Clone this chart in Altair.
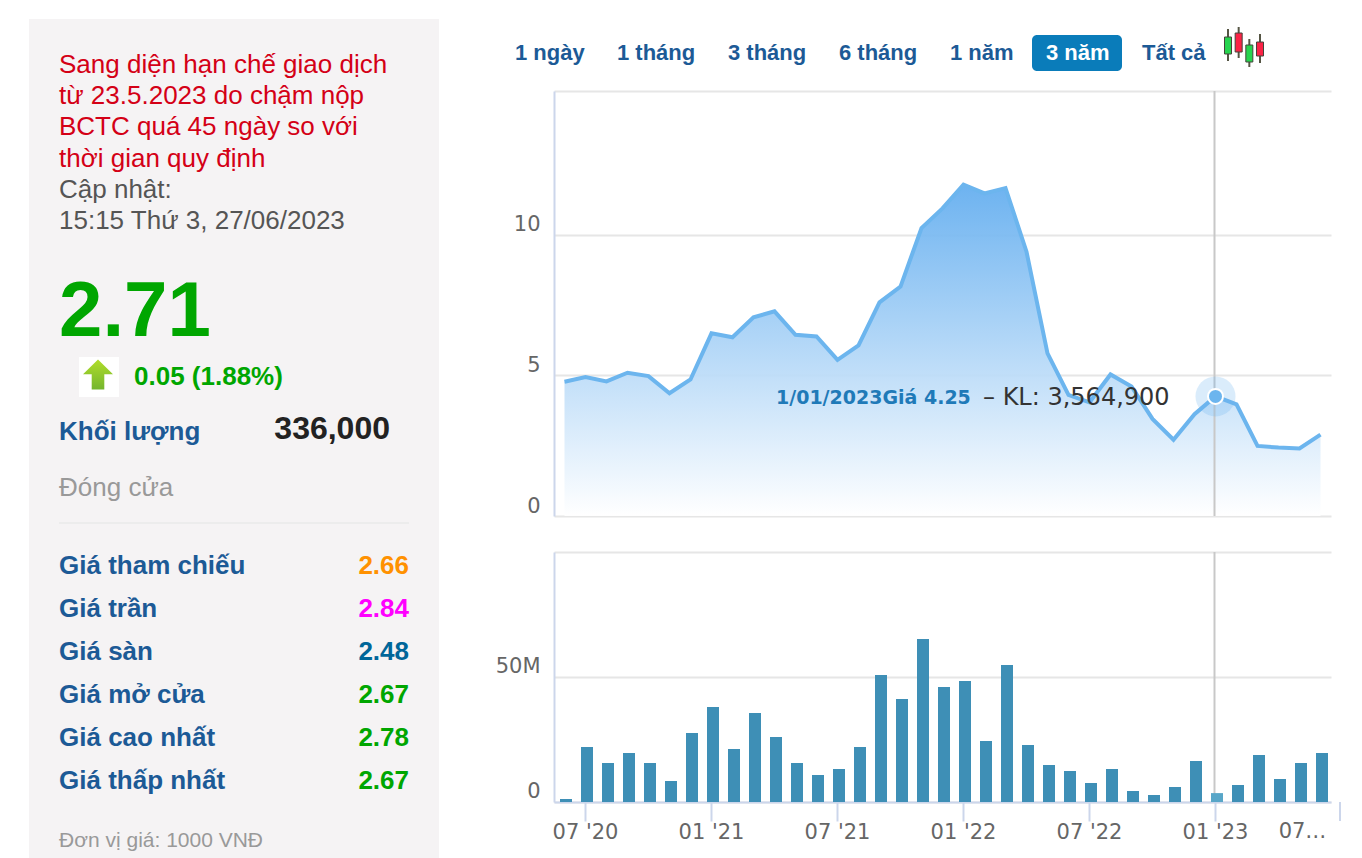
import altair as alt
import pandas as pd

# ---------- data ----------
months = ["06 '20", "07 '20", "08 '20", "09 '20", "10 '20", "11 '20", "12 '20",
          "01 '21", "02 '21", "03 '21", "04 '21", "05 '21", "06 '21", "07 '21",
          "08 '21", "09 '21", "10 '21", "11 '21", "12 '21", "01 '22", "02 '22",
          "03 '22", "04 '22", "05 '22", "06 '22", "07 '22", "08 '22", "09 '22",
          "10 '22", "11 '22", "12 '22", "01 '23", "02 '23", "03 '23", "04 '23",
          "05 '23", "06 '23"]
price = [4.77, 4.94, 4.78, 5.09, 4.97, 4.36, 4.85, 6.49, 6.35, 7.06, 7.27, 6.44,
         6.38, 5.55, 6.06, 7.59, 8.15, 10.23, 10.93, 11.77, 11.46, 11.65, 9.39,
         5.78, 4.30, 4.04, 5.03, 4.60, 3.45, 2.71, 3.62, 4.25, 3.97, 2.49, 2.43,
         2.40, 2.89]
volume = [1.2, 22, 15.6, 19.6, 15.6, 8.4, 27.6, 38, 21.2, 35.6, 26, 15.6, 10.8,
          13.2, 22, 50.8, 41.2, 65.2, 46, 48.4, 24.4, 54.8, 22.8, 14.8, 12.4,
          7.6, 13.2, 4.4, 2.8, 6, 16.4, 3.56, 6.8, 18.8, 9.2, 15.6, 19.6]
tick_months = ["07 '20", "01 '21", "07 '21", "01 '22", "07 '22", "01 '23"]
hover_month = "01 '23"

red_lines = ["Sang diện hạn chế giao dịch", "từ 23.5.2023 do chậm nộp",
             "BCTC quá 45 ngày so với", "thời gian quy định"]
gray_lines = ["Cập nhật:", "15:15 Thứ 3, 27/06/2023"]
stat_labels = ["Giá tham chiếu", "Giá trần", "Giá sàn", "Giá mở cửa", "Giá cao nhất", "Giá thấp nhất"]
stat_values = ["2.66", "2.84", "2.48", "2.67", "2.78", "2.67"]
stat_colors = ["#ff9100", "#ff00ff", "#006699", "#00a600", "#00a600", "#00a600"]
buttons = ["1 ngày", "1 tháng", "3 tháng", "6 tháng", "1 năm", "3 năm", "Tất cả"]
button_left = [515, 617, 728, 839, 950, 1046, 1142]

candle_idx = [0, 1, 2, 3]
candle_dir = ["up", "down", "up", "down"]
wick_low = [6, 9, 0, 4]
wick_high = [38, 40, 28, 33]
body_low = [13, 15, 5, 11]
body_high = [30, 34, 22, 25]

# ---------- helpers ----------
SANS = "Liberation Sans"
AXF = "DejaVu Sans"
BLUE = "#1c5a96"
GREEN = "#00a600"
GRID = "#e6e6e6"
AX = "#ccd6eb"
LINE = "#6cb5ee"


def txt(s, x, y, size, color, bold=False, align="left", font=SANS):
    return alt.Chart(alt.Data(values=[{"t": s}])).mark_text(
        font=font, fontSize=size, color=color, align=align, baseline="middle",
        fontWeight="bold" if bold else "normal",
    ).encode(x=alt.value(x), y=alt.value(y), text="t:N")


def box(x, x2, y, y2, color, radius=0):
    return alt.Chart(alt.Data(values=[{"a": 1}])).mark_rect(color=color, cornerRadius=radius).encode(
        x=alt.value(x), x2=alt.value(x2), y=alt.value(y), y2=alt.value(y2))


def vgrad(top, bottom):
    return alt.LinearGradient(gradient="linear",
                              stops=[alt.GradientStop(offset=0, color=top),
                                     alt.GradientStop(offset=1, color=bottom)],
                              x1=1, x2=1, y1=0, y2=1)


# ---------- left panel (page origin 8,8) ----------
O = 8
layers = [box(29 - O, 439 - O, 19 - O, 858 - O, "#f5f3f4")]
for i, s in enumerate(red_lines):
    layers.append(txt(s, 59 - O, 65 + 31.2 * i - O, 26, "#d40016"))
for i, s in enumerate(gray_lines):
    layers.append(txt(s, 59 - O, 190 + 31.2 * i - O, 26, "#555555"))
layers.append(txt("2.71", 59 - O, 313 - O, 78, GREEN, True))
layers.append(box(79 - O, 119 - O, 357 - O, 397 - O, "#ffffff"))
layers.append(alt.Chart(alt.Data(values=[{"a": 1}])).mark_point(
    shape="M0,-1 L1,-0.02 L0.42,-0.02 L0.42,1 L-0.42,1 L-0.42,-0.02 L-1,-0.02 Z",
    filled=True, size=900, opacity=1, color=vgrad("#b0dd2a", "#74b52e"), strokeWidth=0,
).encode(x=alt.value(98 - O), y=alt.value(374.5 - O)))
layers.append(txt("0.05 (1.88%)", 134 - O, 377 - O, 26, GREEN, True))
layers.append(txt("Khối lượng", 59 - O, 432 - O, 26, BLUE, True))
layers.append(txt("336,000", 390 - O, 429 - O, 32, "#222222", True, "right"))
layers.append(txt("Đóng cửa", 59 - O, 488 - O, 26, "#999999"))
layers.append(box(59 - O, 409 - O, 522 - O, 524 - O, "#ececec"))
for i, (a, b, c) in enumerate(zip(stat_labels, stat_values, stat_colors)):
    layers.append(txt(a, 59 - O, 566 + 43 * i - O, 26, BLUE, True))
    layers.append(txt(b, 409 - O, 566 + 43 * i - O, 26, c, True, "right"))
layers.append(txt("Đơn vị giá: 1000 VNĐ", 59 - O, 841 - O, 21, "#999999"))
left = alt.layer(*layers).properties(width=431, height=850)

# ---------- buttons row (plot origin x=554, y=8) ----------
PX = 554
b_layers = [box(1032 - PX, 1122 - PX, 35 - O, 71 - O, "#0a7cba", 5)]
for s, x in zip(buttons, button_left):
    b_layers.append(txt(s, x - PX, 53 - O, 22, "#ffffff" if s == "3 năm" else BLUE, True))
candles = pd.DataFrame({"i": candle_idx, "dir": candle_dir, "wl": wick_low, "wh": wick_high,
                        "bl": body_low, "bh": body_high})
cx = alt.X("i:Q", axis=None, scale=alt.Scale(domain=[0, 3], range=[1228 - PX, 1260 - PX],
                                             nice=False, zero=False, padding=0))
cy = alt.Scale(domain=[0, 40], range=[67 - O, 27 - O], nice=False, zero=False)
b_layers.append(alt.Chart(candles).mark_rule(color="#555544", strokeWidth=2).encode(
    x=cx, y=alt.Y("wl:Q", axis=None, scale=cy), y2="wh:Q"))
b_layers.append(alt.Chart(candles).mark_bar(size=7, stroke="#44443a", strokeWidth=1).encode(
    x=cx, y=alt.Y("bl:Q", axis=None, scale=cy), y2="bh:Q",
    color=alt.Color("dir:N", legend=None,
                    scale=alt.Scale(domain=["up", "down"], range=["#27d44f", "#fb2346"]))))
button_row = alt.layer(*b_layers).properties(width=777, height=82)

# ---------- shared ----------
df = pd.DataFrame({"month": months, "price": price, "volume": volume})
hover = df[df.month == hover_month]
band = alt.Scale(type="band", domain=months, paddingInner=0, paddingOuter=0)
x_none = alt.X("month:N", scale=band, axis=None, title=None)

# ---------- price chart ----------
PTOP = 15.1
y_price = alt.Y("price:Q", title=None, scale=alt.Scale(domain=[0, PTOP], nice=False),
                axis=alt.Axis(values=[0, 5, 10, PTOP], labelExpr="datum.value > 10 ? '' : datum.label",
                              labelFont=AXF, labelFontSize=21, labelColor="#666666",
                              labelPadding=14, labelOffset=-10, tickSize=0,
                              domainColor=AX, domainWidth=2, gridColor=GRID, gridWidth=2,
                              grid=True))
base = alt.Chart(df)
price_chart = alt.layer(
    base.mark_area(color=vgrad("#62adef", "#ffffff"), opacity=0.93).encode(x=x_none, y=y_price),
    alt.Chart(hover).mark_rule(color="#c8c8c8", strokeWidth=2, xOffset=-1).encode(x=x_none),
    base.mark_line(color=LINE, strokeWidth=4, strokeJoin="miter").encode(x=x_none, y="price:Q"),
    alt.Chart(hover).mark_point(filled=True, color=LINE, opacity=0.25, size=1600).encode(x=x_none, y="price:Q"),
    alt.Chart(hover).mark_point(filled=True, color=LINE, opacity=1, size=225, stroke="#ffffff", strokeWidth=2).encode(x=x_none, y="price:Q"),
    txt("1/01/2023Giá 4.25", 776 - PX, 399 - 92, 19, "#1f7ab8", True, font=AXF),
    txt("– KL: 3,564,900", 983 - PX, 399 - 92, 24, "#333333", font=AXF),
).properties(width=777, height=425)

# ---------- volume chart ----------
y_vol = alt.Y("volume:Q", title=None, scale=alt.Scale(domain=[0, 100], nice=False),
              axis=alt.Axis(values=[0, 50, 100], labelExpr="datum.value == 50 ? '50M' : datum.value == 0 ? '0' : ''",
                            labelFont=AXF, labelFontSize=21, labelColor="#666666",
                            labelPadding=14, labelOffset=-11, tickSize=0,
                            domainColor=AX, domainWidth=2, gridColor=GRID, gridWidth=2, grid=True))
x_vol = alt.X("month:N", scale=band, title=None,
              axis=alt.Axis(values=tick_months, labelAngle=0, labelFont=AXF, labelFontSize=21,
                            labelColor="#666666", tickColor=AX, tickWidth=2, tickSize=19,
                            domainColor=AX, domainWidth=2, labelPadding=0, grid=False))
vol_chart = alt.layer(
    alt.Chart(hover).mark_rule(color="#c8c8c8", strokeWidth=2, xOffset=-1).encode(x=x_vol),
    base.mark_bar(size=12, xOffset=1.5).encode(
        x=x_vol, y=y_vol,
        color=alt.condition(alt.datum.month == hover_month, alt.value("#58a6c8"), alt.value("#3e8fb6"))),
    alt.Chart(alt.Data(values=[{"t": "07…", "month": months[35]}])).mark_text(
        font=AXF, fontSize=21, color="#666666", xOffset=3).encode(x=x_vol, y=alt.value(280), text="t:N"),
    alt.Chart(alt.Data(values=[{"a": 1}])).mark_rule(color=AX, strokeWidth=2).encode(
        x=alt.value(786), y=alt.value(250), y2=alt.value(269)),
).properties(width=777, height=250)

right = alt.vconcat(button_row, alt.vconcat(price_chart, vol_chart, spacing=34), spacing=0)

chart = alt.hconcat(left, right, spacing=56).configure_view(stroke=None).properties(padding=0)
chart.save("out.html", embed_options={"renderer": "svg", "actions": False})
